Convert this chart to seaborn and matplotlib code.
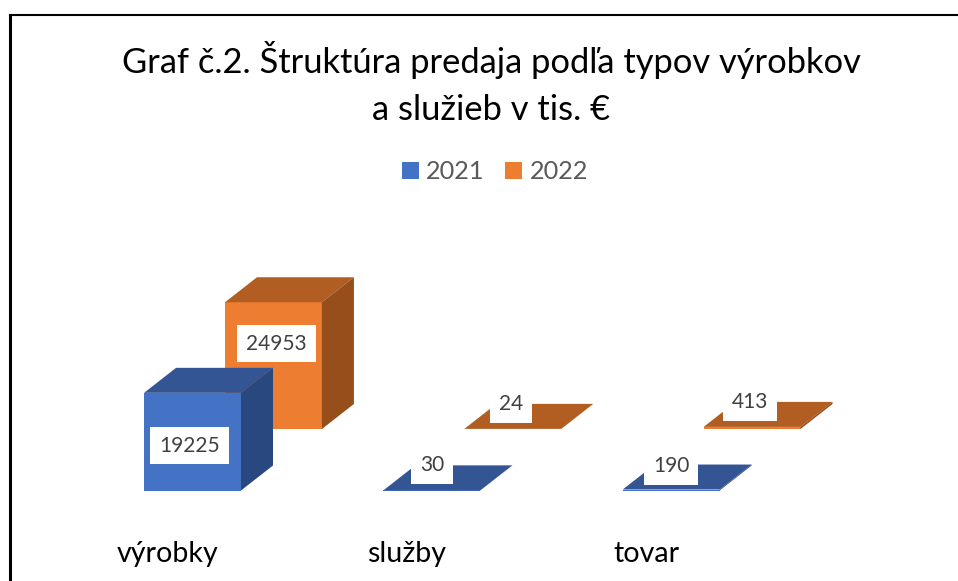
#!/usr/bin/env python3
import numpy as np
import pandas as pd
import seaborn as sns
import matplotlib.pyplot as plt
from matplotlib.patches import Polygon

categories = ["výrobky", "služby", "tovar"]
years = ["2021", "2022"]
values_2021 = [19225, 30, 190]
values_2022 = [24953, 24, 413]

sns.set_theme(style="white")
plt.rcParams["font.family"] = ["Lato", "DejaVu Sans"]

colors = {"2021": "#4472C4", "2022": "#ED7D31"}
top_colors = {"2021": "#335593", "2022": "#B25E22"}
side_colors = {"2021": "#2A4880", "2022": "#964E1B"}

W, H = 958, 581
# pixels per category / per unit of value
px_x = 239.3
px_y = 0.00508
base_px = 490.5

df = pd.DataFrame(
    {
        "typ": categories * 2,
        "rok": [years[0]] * 3 + [years[1]] * 3,
        "hodnota": values_2021 + values_2022,
    }
)

fig = plt.figure(figsize=(W / 100, H / 100), dpi=100)
ax = fig.add_axes([10 / W, 0, 1 - 10 / W, 1 - 15.3 / H])

ax = sns.barplot(
    data=df, x="typ", y="hodnota", hue="rok", order=categories, hue_order=years,
    palette=colors, saturation=1, width=0.81, linewidth=0, ax=ax,
)
ax.set_xlim((10 - 241) / px_x, (W - 241) / px_x)
ax.set_ylim((base_px - H) / px_y, (base_px - 15.3) / px_y)
ax.set_xlabel("")
ax.set_ylabel("")
ax.set_yticks([])

# back row sits further into the depth, like the excel 3d chart
back_dx, back_dy = -16 / px_x, 61.5 / px_y
depth_dx, depth_dy = 32 / px_x, 25 / px_y

# x / y nudges of the value labels, in pixels
label_shift = {
    "2021": [(-3, -4), (0, 25), (0, 24)],
    "2022": [(3, 22), (-2, 25), (-2, 26)],
}

for year, cont, z in zip(years, ax.containers, [4, 2]):
    for i, bar in enumerate(cont):
        if year == "2022":
            bar.set_x(bar.get_x() + back_dx)
            bar.set_y(bar.get_y() + back_dy)
        bar.set_zorder(z)
        x0, y0 = bar.get_x(), bar.get_y()
        w, h = bar.get_width(), bar.get_height()
        x1, y1 = x0 + w, y0 + h
        ax.add_patch(Polygon(
            [(x0, y1), (x1, y1), (x1 + depth_dx, y1 + depth_dy), (x0 + depth_dx, y1 + depth_dy)],
            facecolor=top_colors[year], edgecolor="none", zorder=z,
        ))
        ax.add_patch(Polygon(
            [(x1, y0), (x1 + depth_dx, y0 + depth_dy), (x1 + depth_dx, y1 + depth_dy), (x1, y1)],
            facecolor=side_colors[year], edgecolor="none", zorder=z,
        ))
        sx, sy = label_shift[year][i]
        ax.text(
            x0 + w / 2 + sx / px_x, y0 + h / 2 + sy / px_y, str(round(h)),
            ha="center", va="center", color="#404040", fontsize=15, zorder=6,
            bbox=dict(boxstyle="square,pad=0.42", facecolor="white", edgecolor="none"),
        )

ax.set_xticks(np.arange(3) - 0.307)
ax.set_xticklabels(categories, fontsize=20.6, color="black")
ax.tick_params(axis="x", length=0, pad=-29)

for side in ["right", "bottom"]:
    ax.spines[side].set_visible(False)
ax.spines["left"].set_visible(True)
ax.spines["left"].set_color("black")
ax.spines["left"].set_linewidth(2.2)
ax.spines["top"].set_visible(True)
ax.spines["top"].set_color("black")
ax.spines["top"].set_linewidth(1.5)

sns.move_legend(
    ax, loc="center", bbox_to_anchor=(495 / W, 1 - 171.5 / H),
    bbox_transform=fig.transFigure, ncol=2, title=None, frameon=False,
    fontsize=18.2, labelcolor="#595959", handlelength=0.67, handleheight=0.67,
    handletextpad=0.3, columnspacing=0.82,
)

fig.text(
    491 / W, 1 - 83.5 / H,
    "Graf č.2. Štruktúra predaja podľa typov výrobkov\na služieb v tis. €",
    ha="center", va="center", fontsize=24.8, color="black", linespacing=1.6,
)

plt.savefig("out.png", dpi=100)
